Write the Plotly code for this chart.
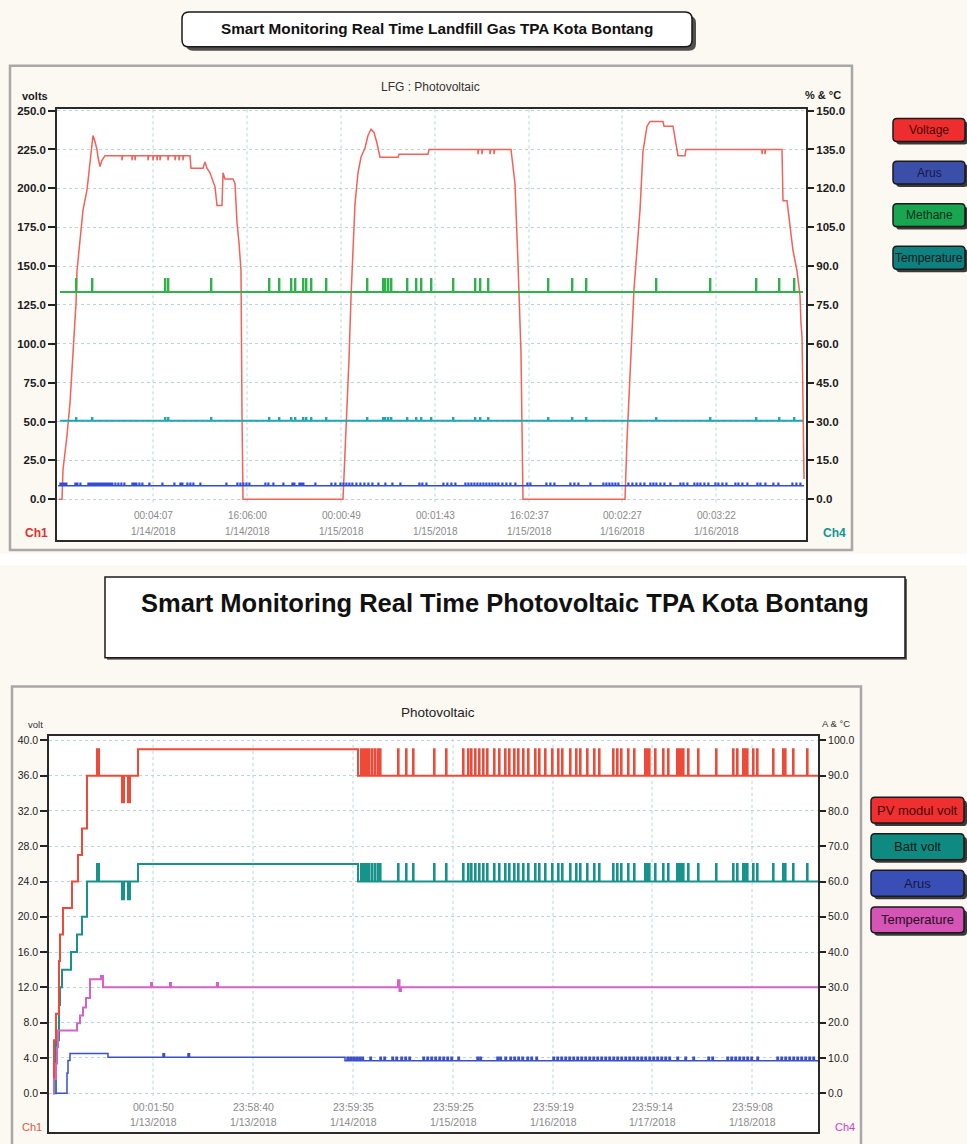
import numpy as np
import plotly.graph_objects as go

W, H = 967, 1144
FONT = "Liberation Sans, Arial, sans-serif"
FONT_W = "Liberation Sans, Arial, sans-serif"

# ================= TOP PANEL : LFG : Photovoltaic =================
TOP_TITLE = "Smart Monitoring Real Time Landfill Gas TPA Kota Bontang"
TOP_SUBTITLE = "LFG : Photovoltaic"
TOP_X_TICK_POS = [96, 190, 284, 378, 472, 565, 659]          # record index
TOP_X_TICK_TIME = ["00:04:07", "16:06:00", "00:00:49", "00:01:43", "16:02:37", "00:02:27", "00:03:22"]
TOP_X_TICK_DATE = ["1/14/2018", "1/14/2018", "1/15/2018", "1/15/2018", "1/15/2018", "1/16/2018", "1/16/2018"]
TOP_LEFT_TICKS = [0, 25, 50, 75, 100, 125, 150, 175, 200, 225, 250]
TOP_RIGHT_TICKS = [0, 15, 30, 45, 60, 75, 90, 105, 120, 135, 150]
TOP_X_MAX = 749
TOP_LEGEND = ["Voltage", "Arus", "Methane", "Temperature"]

VOLTAGE_X = [2, 5, 6, 10, 13, 15, 17, 19, 20, 23, 26, 30, 33, 36, 38, 40, 41, 43, 45, 48,
             133, 134, 146, 148, 150, 153, 158, 160, 165, 166, 168, 176, 178, 180, 182, 184, 185, 186,
             286, 289, 292, 294, 296, 298, 301, 304, 308, 311, 314, 317, 320, 323, 341, 342, 371, 372,
             454, 458, 461, 464, 466,
             568, 570, 573, 577, 583, 586, 590, 593, 606, 607, 616, 620, 621, 628, 629, 725, 726, 730,
             731, 736, 740, 743, 744, 745, 746, 747]
VOLTAGE_Y = [0, 0, 19, 41, 62, 83, 105, 126, 147, 165, 186, 199, 216, 234, 230, 225, 220, 214, 218, 221,
             221, 213, 213, 217, 213, 210, 201, 189, 189, 210, 206, 206, 203, 178, 165, 147, 54, 0,
             0, 40, 90, 130, 165, 190, 210, 220, 226, 234, 238, 236, 229, 220, 220, 222, 222, 225,
             225, 203, 152, 94, 0,
             0, 38, 80, 135, 186, 224, 240, 243, 243, 240, 240, 224, 221, 221, 225, 225, 192, 192,
             186, 160, 147, 131, 113, 105, 62, 13]
VOLTAGE_DIPS = [65, 75, 78, 91, 96, 100, 103, 111, 118, 122, 126, 421, 425, 433, 437, 705, 708]
VOLTAGE_DIP_DEPTH = 3

METHANE_BASE, METHANE_PEAK = 80.0, 85.0
METHANE_SPIKES = [19, 35, 108, 111, 154, 212, 222, 234, 238, 246, 249, 254, 269, 310, 326, 328, 331,
                  334, 350, 359, 364, 374, 396, 418, 423, 431, 491, 515, 529, 599, 653, 699, 722, 737]
TEMP1_BASE, TEMP1_PEAK = 30.3, 31.4
ARUS1_BASE, ARUS1_PEAK = 5.2, 6.2
ARUS1_SPIKES = [3, 5, 7, 9, 18, 20, 23, 31, 33, 35, 37, 39, 41, 43, 45, 47, 49, 51, 53, 55, 58, 61, 64,
                67, 75, 77, 79, 82, 85, 92, 105, 117, 123, 125, 130, 133, 136, 143, 169, 180, 183, 186,
                189, 192, 208, 211, 216, 226, 235, 237, 242, 244, 246, 258, 274, 278, 283, 286, 289, 292,
                295, 299, 303, 307, 311, 315, 321, 328, 335, 343, 362, 365, 369, 386, 390, 394, 398, 408,
                411, 414, 417, 420, 423, 426, 429, 432, 435, 438, 441, 445, 449, 453, 458, 470, 473, 489,
                493, 497, 513, 517, 521, 533, 546, 549, 552, 555, 558, 561, 571, 575, 579, 583, 587, 593,
                596, 599, 603, 607, 613, 623, 626, 630, 637, 640, 643, 647, 651, 658, 661, 665, 669, 678,
                681, 685, 690, 700, 703, 708, 716, 721, 735, 739, 743]

# ================= BOTTOM PANEL : Photovoltaic =================
BOT_TITLE = "Smart Monitoring Real Time Photovoltaic TPA Kota Bontang"
BOT_SUBTITLE = "Photovoltaic"
BOT_X_TICK_POS = [104, 204, 304, 404, 504, 603, 703]
BOT_X_TICK_TIME = ["00:01:50", "23:58:40", "23:59:35", "23:59:25", "23:59:19", "23:59:14", "23:59:08"]
BOT_X_TICK_DATE = ["1/13/2018", "1/13/2018", "1/14/2018", "1/15/2018", "1/16/2018", "1/17/2018", "1/18/2018"]
BOT_LEFT_TICKS = [0, 4, 8, 12, 16, 20, 24, 28, 32, 36, 40]
BOT_RIGHT_TICKS = [0, 10, 20, 30, 40, 50, 60, 70, 80, 90, 100]
BOT_X_MAX = 769
BOT_LEGEND = ["PV modul volt", "Batt volt", "Arus", "Temperature"]

PV_LEVEL_X = [4, 5, 7, 10, 11, 14, 23, 29, 33, 38, 48, 50, 73, 75, 79, 81, 89, 309]
PV_LEVEL_Y = [0, 6, 9, 15, 18, 21, 24, 27, 30, 36, 39, 36, 33, 36, 33, 36, 39, 36]
PV_PEAK = 39
BATT_LEVEL_X = [4, 7, 10, 11, 13, 22, 28, 33, 38, 48, 50, 73, 75, 79, 81, 89, 309]
BATT_LEVEL_Y = [0, 6, 10, 12, 14, 16, 18, 20, 24, 26, 24, 22, 24, 22, 24, 26, 24]
BATT_PEAK = 26
PV_SPIKES = [312, 314, 316, 318, 320, 323, 326, 329, 331, 349, 357, 364, 385, 397, 414, 419, 422, 426,
             430, 434, 438, 445, 450, 456, 460, 465, 469, 474, 479, 486, 490, 496, 503, 509, 513, 521,
             527, 531, 538, 545, 550, 564, 568, 572, 579, 585, 596, 598, 600, 606, 614, 619, 628, 630,
             632, 634, 639, 649, 667, 684, 688, 694, 696, 698, 704, 708, 724, 734, 736, 744, 758]
TEMP2_LEVEL_X = [4, 5, 7, 8, 9, 28, 31, 34, 37, 41, 52, 54, 349, 350.5, 352]
TEMP2_LEVEL_Y = [0, 4, 8.4, 13, 17.8, 19.8, 22, 24.3, 27, 32.3, 33.2, 30, 32, 29, 30]
TEMP2_SPIKES = [102, 121, 168]
TEMP2_PEAK = 31.2
ARUS2_LEVEL_X = [6, 16, 18, 19, 21, 59, 114, 115.5, 139, 140.5, 296]
ARUS2_LEVEL_Y = [0, 0, 5.75, 9.25, 11.25, 10.2, 11.2, 10.2, 11.2, 10.2, 9.2]
ARUS2_PEAK = 10.2
ARUS2_SPIKES = [298, 301, 304, 307, 310, 313, 321, 331, 335, 343, 347, 352, 356, 360, 374, 378, 382, 386,
                390, 394, 398, 402, 409, 428, 431, 448, 451, 456, 461, 465, 469, 473, 478, 482, 487, 504,
                508, 512, 516, 520, 524, 528, 532, 536, 540, 544, 548, 552, 556, 560, 564, 568, 572, 576,
                580, 584, 588, 592, 596, 600, 604, 608, 612, 616, 620, 628, 636, 644, 659, 663, 678, 682,
                686, 690, 694, 698, 702, 708, 728, 732, 736, 740, 744, 748, 752, 756, 760, 764]


# ---------------- helpers ----------------
def pulses(x0, x1, base, peak, positions, width):
    xs, ys = [x0], [base]
    for p in sorted(positions):
        xs += [p, p, p + width, p + width]
        ys += [base, peak, peak, base]
    xs.append(x1)
    ys.append(base)
    return xs, ys


def with_dips(xs, ys, dips, depth, width=0.6):
    xs, ys = list(xs), list(ys)
    pts = list(zip(xs, ys))
    for d in dips:
        b = float(np.interp(d, xs, ys))
        pts += [(d - 0.001, b), (d, b - depth), (d + width, b - depth), (d + width + 0.001, b)]
    pts.sort(key=lambda t: t[0])
    return [p[0] for p in pts], [p[1] for p in pts]


def level_at(x, lx, ly):
    v = ly[0]
    for a, b in zip(lx, ly):
        if a <= x:
            v = b
        else:
            break
    return v


def stepped(lx, ly, x_end, positions=(), peak=None, width=1.5):
    cuts = sorted(set(lx) | set(positions) | {p + width for p in positions} | {x_end})
    xs, ys, prev = [], [], None
    for c in cuts:
        v = level_at(c, lx, ly)
        if any(p <= c < p + width for p in positions):
            v = peak
        if prev is not None:
            xs.append(c)
            ys.append(prev)
        xs.append(c)
        ys.append(v)
        prev = v
    return xs, ys


def P(x, y):
    return x / W, 1 - y / H


def rr_path(x0, y0, x1, y1, r):
    seq = [("M", [(x0 + r, y0)]), ("L", [(x1 - r, y0)]), ("Q", [(x1, y0), (x1, y0 + r)]),
           ("L", [(x1, y1 - r)]), ("Q", [(x1, y1), (x1 - r, y1)]), ("L", [(x0 + r, y1)]),
           ("Q", [(x0, y1), (x0, y1 - r)]), ("L", [(x0, y0 + r)]), ("Q", [(x0, y0), (x0 + r, y0)])]
    out = []
    for cmd, pts in seq:
        out.append(cmd + " " + " ".join("%.5f,%.5f" % P(a, b) for a, b in pts))
    return " ".join(out) + " Z"


fig = go.Figure()


def line(x, y, xa, ya, color, width, shape="linear"):
    fig.add_trace(go.Scatter(x=x, y=y, xaxis=xa, yaxis=ya, mode="lines",
                             line=dict(color=color, width=width, shape=shape),
                             showlegend=False, hoverinfo="skip"))


# ---- top traces
ax_, ay_ = pulses(1, 747, ARUS1_BASE, ARUS1_PEAK, ARUS1_SPIKES, 0.8)
line(ax_, ay_, "x", "y2", "#2f4fd0", 1.4)
tx_, ty_ = pulses(3, 746, TEMP1_BASE, TEMP1_PEAK, METHANE_SPIKES, 0.4)
line(tx_, ty_, "x", "y2", "#22a6b4", 2)
mx_, my_ = pulses(3, 746, METHANE_BASE, METHANE_PEAK, METHANE_SPIKES, 0.4)
line(mx_, my_, "x", "y2", "#2db34a", 2)
vx_, vy_ = with_dips(VOLTAGE_X, VOLTAGE_Y, VOLTAGE_DIPS, VOLTAGE_DIP_DEPTH)
line(vx_, vy_, "x", "y", "#f0625a", 1.5)

# ---- bottom traces
bx_, by_ = stepped(ARUS2_LEVEL_X, ARUS2_LEVEL_Y, BOT_X_MAX, ARUS2_SPIKES, ARUS2_PEAK, 1.4)
line(bx_, by_, "x2", "y4", "#3a50c8", 1.5)
gx_, gy_ = stepped(TEMP2_LEVEL_X, TEMP2_LEVEL_Y, BOT_X_MAX, TEMP2_SPIKES, TEMP2_PEAK, 1.0)
line(gx_, gy_, "x2", "y4", "#d462c8", 2)
cx_, cy_ = stepped(BATT_LEVEL_X, BATT_LEVEL_Y, BOT_X_MAX, PV_SPIKES, BATT_PEAK, 0.6)
line(cx_, cy_, "x2", "y3", "#17938c", 2)
rx_, ry_ = stepped(PV_LEVEL_X, PV_LEVEL_Y, BOT_X_MAX, PV_SPIKES, PV_PEAK, 0.6)
line(rx_, ry_, "x2", "y3", "#ee4a3a", 2)

# ---- axes geometry (pixels of the page)
T_L, T_R, T_T, T_B = 57, 806, 105, 538
T_Y0PX, T_YTOPPX = 497, 107
t_scale = (T_Y0PX - T_YTOPPX) / 250.0
top_range = [-(T_B - T_Y0PX) / t_scale, 250 + (T_YTOPPX - T_T) / t_scale]
B_L, B_R, B_T, B_B = 49, 818, 735, 1132
B_Y0PX, B_YTOPPX = 1093, 739
b_scale = (B_Y0PX - B_YTOPPX) / 40.0
bot_range = [-(B_B - B_Y0PX) / b_scale, 40 + (B_YTOPPX - B_T) / b_scale]

GRID = "#b8d6d6"
axline = dict(showline=True, mirror=True, linecolor="#2a2a2a", linewidth=1.5, zeroline=False, fixedrange=True)
tfont_top = dict(family=FONT, size=11.5, color="#1a1a1a", weight="bold")
tfont_bot = dict(family=FONT, size=10.5, color="#222222")

fig.update_layout(
    width=W, height=H, margin=dict(l=0, r=0, t=0, b=0),
    paper_bgcolor="#fcf8f2", plot_bgcolor="white", showlegend=False,
    xaxis=dict(domain=[T_L / W, T_R / W], range=[0, TOP_X_MAX], showgrid=False, showticklabels=False,
               ticks="", anchor="y", **axline),
    yaxis=dict(domain=[1 - T_B / H, 1 - T_T / H], range=top_range, tickvals=TOP_LEFT_TICKS,
               ticktext=["%.1f" % v for v in TOP_LEFT_TICKS], ticks="outside", ticklen=7, tickwidth=1.5,
               tickcolor="#222", showgrid=True, gridcolor=GRID, griddash="dot", gridwidth=1,
               tickfont=tfont_top, anchor="x", **axline),
    yaxis2=dict(domain=[1 - T_B / H, 1 - T_T / H], overlaying="y", side="right", anchor="x",
                range=[top_range[0] * 0.6, top_range[1] * 0.6], tickvals=TOP_RIGHT_TICKS,
                ticktext=["%.1f" % v for v in TOP_RIGHT_TICKS], ticks="outside", ticklen=7, tickwidth=1.5,
                tickcolor="#222", showgrid=False, zeroline=False, showline=False, tickfont=tfont_top,
                fixedrange=True),
    xaxis2=dict(domain=[B_L / W, B_R / W], range=[0, BOT_X_MAX], showgrid=False, showticklabels=False,
                ticks="", anchor="y3", **axline),
    yaxis3=dict(domain=[1 - B_B / H, 1 - B_T / H], range=bot_range, tickvals=BOT_LEFT_TICKS,
                ticktext=["%.1f" % v for v in BOT_LEFT_TICKS], ticks="outside", ticklen=7, tickwidth=1.5,
                tickcolor="#222", showgrid=True, gridcolor=GRID, griddash="dot", gridwidth=1,
                tickfont=tfont_bot, anchor="x2", **axline),
    yaxis4=dict(domain=[1 - B_B / H, 1 - B_T / H], overlaying="y3", side="right", anchor="x2",
                range=[bot_range[0] * 2.5, bot_range[1] * 2.5], tickvals=BOT_RIGHT_TICKS,
                ticktext=["%.1f" % v for v in BOT_RIGHT_TICKS], ticks="outside", ticklen=7, tickwidth=1.5,
                tickcolor="#222", showgrid=False, zeroline=False, showline=False, tickfont=tfont_bot,
                fixedrange=True),
)

shapes = []
# white separation strip between the two screenshots
shapes.append(dict(type="rect", xref="paper", yref="paper", x0=0, x1=1, y0=1 - 563 / H, y1=1 - 552 / H,
                   line=dict(width=0), fillcolor="white", layer="below"))
# frames
for (x0, y0, x1, y1) in [(10, 62, 852, 548), (12, 685, 861, 1150)]:
    shapes.append(dict(type="rect", xref="paper", yref="paper", x0=x0 / W, x1=x1 / W, y0=1 - y1 / H,
                       y1=1 - y0 / H, line=dict(color="#a8a8a8", width=2.5), fillcolor="rgba(0,0,0,0)",
                       layer="below"))
# vertical dotted grid lines at the x ticks
for t in TOP_X_TICK_POS:
    shapes.append(dict(type="line", xref="x", yref="y", x0=t, x1=t, y0=-2, y1=top_range[1],
                       line=dict(color=GRID, width=1, dash="dot"), layer="below"))
for t in BOT_X_TICK_POS:
    shapes.append(dict(type="line", xref="x2", yref="y3", x0=t, x1=t, y0=-0.3, y1=bot_range[1],
                       line=dict(color=GRID, width=1, dash="dot"), layer="below"))

# title boxes
shapes.append(dict(type="path", xref="paper", yref="paper", path=rr_path(186, 12, 696, 47, 7),
                   fillcolor="#505050", line=dict(width=0), layer="above"))
shapes.append(dict(type="path", xref="paper", yref="paper", path=rr_path(182, 8, 692, 43, 7),
                   fillcolor="white", line=dict(color="#1a1a1a", width=1.5), layer="above"))
shapes.append(dict(type="rect", xref="paper", yref="paper", x0=107 / W, x1=907 / W, y0=1 - 658 / H,
                   y1=1 - 577 / H, fillcolor="#666666", line=dict(width=0), layer="above"))
shapes.append(dict(type="rect", xref="paper", yref="paper", x0=105 / W, x1=905 / W, y0=1 - 656 / H,
                   y1=1 - 575 / H, fillcolor="white", line=dict(color="#1a1a1a", width=1.5), layer="above"))

annotations = []


def text(x, y, s, size, color, family=FONT, weight="normal", xanchor="center", xref="paper", xval=None):
    annotations.append(dict(x=(x / W) if xval is None else xval, y=1 - y / H, xref=xref, yref="paper",
                            text=s, showarrow=False, xanchor=xanchor, yanchor="middle",
                            font=dict(family=family, size=size, color=color, weight=weight)))


text(437, 25, TOP_TITLE, 15.3, "#111111", weight="bold")
text(505, 601, BOT_TITLE, 25.5, "#111111", family=FONT_W, weight="bold")

# legend buttons
top_leg_col = ["#ee2e2e", "#3c4fa8", "#1aa651", "#0e8080"]
top_leg_txt = ["#4a0505", "#15174a", "#08301a", "#021a1a"]
for i, (name, fc, tc) in enumerate(zip(TOP_LEGEND, top_leg_col, top_leg_txt)):
    y0 = 115 + i * 42.7
    shapes.append(dict(type="path", xref="paper", yref="paper", path=rr_path(896, y0 + 3, 968, y0 + 26, 4),
                       fillcolor="#3a3a3a", line=dict(width=0), layer="above"))
    shapes.append(dict(type="path", xref="paper", yref="paper", path=rr_path(893, y0, 965, y0 + 23, 4),
                       fillcolor=fc, line=dict(color="#1a1a1a", width=1.5), layer="above"))
    text(929, y0 + 11.5, name, 12, tc)

bot_leg_col = ["#ee3030", "#0f8a80", "#3a4fb5", "#d455b5"]
bot_leg_txt = ["#4a0505", "#031a18", "#15174a", "#2a0a22"]
for i, (name, fc, tc) in enumerate(zip(BOT_LEGEND, bot_leg_col, bot_leg_txt)):
    y0 = 796 + i * 36.7
    shapes.append(dict(type="path", xref="paper", yref="paper", path=rr_path(874, y0 + 3, 967, y0 + 29, 4),
                       fillcolor="#3a3a3a", line=dict(width=0), layer="above"))
    shapes.append(dict(type="path", xref="paper", yref="paper", path=rr_path(871, y0, 964, y0 + 26, 4),
                       fillcolor=fc, line=dict(color="#1a1a1a", width=1.5), layer="above"))
    text(917.5, y0 + 13, name, 13, tc)

# axis captions
text(20, 92, "volts", 11, "#1a1a1a", weight="bold", xanchor="left")
text(843, 91, "% &amp; °C", 11, "#1a1a1a", weight="bold", xanchor="right")
text(430, 83, TOP_SUBTITLE, 12, "#333333")
text(23, 531, "Ch1", 12, "#e03030", weight="bold", xanchor="left")
text(821, 531, "Ch4", 12, "#109595", weight="bold", xanchor="left")
text(26, 723, "volt", 9.5, "#333333", xanchor="left")
text(852, 722, "A &amp; °C", 9.5, "#333333", xanchor="right")
text(438, 711, BOT_SUBTITLE, 13.5, "#222222")
text(20, 1127, "Ch1", 11, "#e05a40", xanchor="left")
text(833, 1127, "Ch4", 11, "#c845c8", xanchor="left")

# x tick labels (drawn inside the plot frame, as in the original software)
for pos, tm, dt in zip(TOP_X_TICK_POS, TOP_X_TICK_TIME, TOP_X_TICK_DATE):
    text(0, 513, tm, 10, "#8a8a8a", xref="x", xval=pos)
    text(0, 529, dt, 10, "#8a8a8a", xref="x", xval=pos)
for pos, tm, dt in zip(BOT_X_TICK_POS, BOT_X_TICK_TIME, BOT_X_TICK_DATE):
    text(0, 1107, tm, 10.5, "#8a8a8a", xref="x2", xval=pos)
    text(0, 1122, dt, 10.5, "#8a8a8a", xref="x2", xval=pos)

fig.update_layout(shapes=shapes, annotations=annotations)
fig.write_html("out.html")
